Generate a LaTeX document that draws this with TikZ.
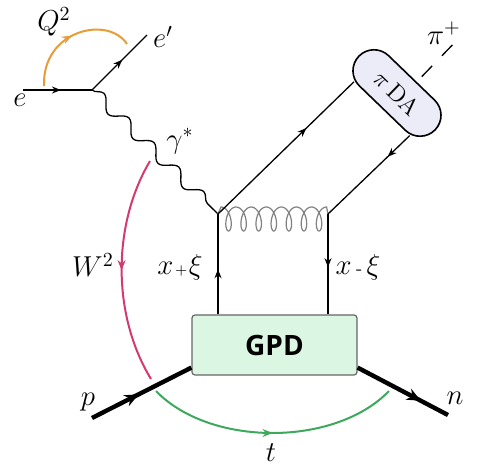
\documentclass[tikz,border=0pt]{standalone}
\usepackage{fontspec}
\newfontfamily\gpdfont{Open Sans}
\usetikzlibrary{calc,arrows.meta,decorations.pathmorphing,decorations.markings}

\definecolor{qorange}{RGB}{232,156,56}
\definecolor{wmagenta}{RGB}{212,58,112}
\definecolor{tgreen}{RGB}{62,168,92}
\definecolor{gpdgreen}{RGB}{219,247,227}
\definecolor{dalav}{RGB}{236,235,248}

\begin{document}
\begin{tikzpicture}[x=0.5pt,y=-0.5pt,
    txt/.style={font=\fontsize{14}{16}\selectfont},
    fermion/.style={line width=0.65pt, postaction={decorate},
      decoration={markings, mark=at position #1 with {\arrow{Stealth[length=4.5pt,width=3.5pt]}}}},
    fermion/.default=0.55,
    hadron/.style={line width=2.2pt, postaction={decorate},
      decoration={markings, mark=at position #1 with {\arrow{Stealth[length=7pt,width=6pt]}}}},
    kin/.style={line width=1pt, postaction={decorate},
      decoration={markings, mark=at position 0.5 with {\arrow{Stealth[length=5pt,width=4pt]}}}},
    photon/.style={line width=0.65pt, decorate, decoration={snake, amplitude=3pt, segment length=17.5pt}},
    gluon/.style={draw=black!50, line width=0.6pt}
    ]
    \useasboundingbox (0,0) rectangle (479,473);

    % Vertices
    \coordinate (ein) at (23,90);
    \coordinate (eout) at (147,35);
    \coordinate (v1) at (92,90);
    \coordinate (v2) at (218,214);
    \coordinate (v3) at (328,214);
    \coordinate (pin) at (92,418);
    \coordinate (nout) at (448,415);

    % Blobs
    \node[draw=black!60, line width=0.6pt, fill=gpdgreen, rounded corners=1.5pt,
          minimum width=82.5pt, minimum height=30pt] (gpd) at (274.5,345)
          {\gpdfont\bfseries\fontsize{14}{16}\selectfont GPD};
    \node[draw, line width=0.8pt, fill=dalav, rounded corners=10.5pt, rotate=-44,
          minimum width=53pt, minimum height=21pt, inner sep=0pt] (da) at (397,93)
          {\large $\pi\,$DA};
    \coordinate (da1) at ($(da.south)!0.72!(da.south west)$);
    \coordinate (da2) at ($(da.south)!0.72!(da.south east)$);
    \coordinate (dan) at ($(da.north)!0.12!(da.north east)$);
    \coordinate (dac) at ($(da.center)!0.12!(da.east)$);
    \coordinate (pi1) at ($(dan)!-0.33!(dac)$);
    \coordinate (pi2) at ($(dan)!-2.35!(dac)$);

    % Lepton part
    \draw[fermion] (ein) -- (v1);
    \draw[fermion] (v1) -- (eout);
    \draw[photon] (v1) -- (v2);

    % Hard part
    \draw[gluon] (v2) -- plot[domain=180:2700, samples=300, smooth]
      ({221+0.0419*(\x-180)-6*sin(\x)}, {219+12*cos(\x)}) -- (v3);
    \draw[fermion=0.45] (v2 |- gpd.north) -- (v2);
    \draw[fermion=0.53] (v3) -- (v3 |- gpd.north);
    \draw[fermion=0.65] (v2) -- (da1);
    \draw[fermion=0.27] (da2) -- (v3);
    \draw[line width=0.65pt, dash pattern=on 7.5pt off 7pt] (pi1) -- (pi2);

    % Hadrons
    \draw[hadron=0.47] (pin) -- ($(gpd.south west)+(0,-8)$);
    \draw[hadron=0.7] ($(gpd.south east)+(0,-8)$) -- (nout);

    % Kinematic arcs
    \draw[kin, qorange] (44,86) .. controls (42,30) and (108,15) .. (127,44);
    \draw[kin, wmagenta] (150,161) .. controls (112,225) and (112,315) .. (151,379);
    \draw[kin, tgreen] (156,391) .. controls (210,447) and (335,447) .. (389,391);

    % Labels
    \node[txt] (le) at (20,100) {$e$};
    \node[txt] (leo) at (163,37) {$e'$};
    \node[txt] (lq) at (54,22) {$Q^2$};
    \node[txt] (lg) at (180,141) {$\gamma^*$};
    \node[txt] (lw) at (93,265) {$W^2$};
    \node[txt] (lp) at (88,402) {$p$};
    \node[txt] (ln) at (455,398) {$n$};
    \node[txt] (lt) at (271,453) {$t$};
    \node[txt] (lpi) at (444,33) {$\pi^+$};
    \node[font=\fontsize{13.5}{16}\selectfont] (lxp) at (180,267) {$x\mkern1mu{\scriptscriptstyle+}\mkern1mu\xi$};
    \node[font=\fontsize{13.5}{16}\selectfont] (lxm) at (358,267) {$x$\,{\small -}\,$\xi$};
\end{tikzpicture}
\end{document}
